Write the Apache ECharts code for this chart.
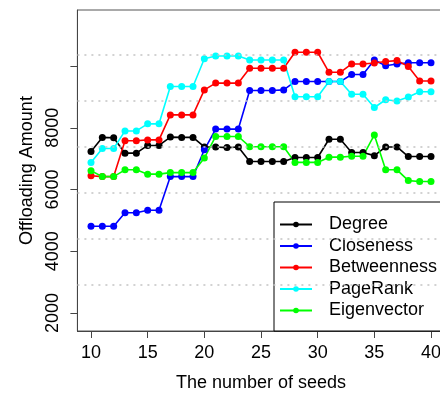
<!DOCTYPE html>
<html>
<head>
<meta charset="utf-8">
<script src="https://cdn.jsdelivr.net/npm/echarts@6/dist/echarts.min.js"></script>
<style>
  html, body { margin: 0; padding: 0; background: #fff; }
  #main { width: 440px; height: 394px; }
</style>
</head>
<body>
<div id="main"></div>
<script type="text/javascript">
// number of seeds 10..40
var seeds = [10,11,12,13,14,15,16,17,18,19,20,21,22,23,24,25,26,27,28,29,30,31,32,33,34,35,36,37,38,39,40];

var degree      = [7230,7690,7680,7180,7180,7430,7430,7700,7690,7690,7380,7380,7360,7380,6910,6910,6910,6910,7040,7040,7040,7630,7630,7200,7200,7100,7380,7380,7070,7070,7070];
var closeness   = [4810,4810,4810,5250,5250,5330,5330,6420,6420,6420,7290,7960,7960,7960,9210,9210,9210,9230,9500,9500,9500,9500,9500,9730,9730,10200,10010,10070,10110,10110,10110];
var betweenness = [6450,6420,6420,7580,7580,7610,7610,8420,8420,8420,9230,9450,9450,9450,9930,9930,9930,9930,10450,10450,10450,9800,9800,10070,10070,10100,10150,10180,9990,9520,9520];
var pagerank    = [6880,7330,7330,7900,7900,8130,8130,9340,9340,9340,10240,10330,10330,10330,10200,10200,10200,10200,9010,9010,9010,9500,9500,9090,9090,8660,8910,8870,9000,9170,9170];
var eigenvector = [6610,6420,6420,6640,6640,6500,6500,6550,6550,6550,7020,7720,7720,7720,7390,7390,7390,7390,6880,6880,6880,7050,7050,7080,7080,7770,6640,6640,6290,6260,6260];

var seriesNames  = ['Degree','Closeness','Betweenness','PageRank','Eigenvector'];
var seriesColors = ['#000000','#0000ff','#ff0000','#00ffff','#00ff00'];

var xTicks = [10,15,20,25,30,35,40];
var yTicks = [2000,4000,6000,8000,10000];
var yLabels = [2000,4000,6000,8000];
// the dotted horizontal lines
var gridValues = [2907,4398,5888,7379,8869,10360];

var myChart = echarts.init(document.getElementById('main'));
var font = 'Liberation Sans, Arial, sans-serif';

function pairs(arr) {
    var out = [];
    for (var i = 0; i < seeds.length; i++) {
        out.push([seeds[i], arr[i]]);
    }
    return out;
}

var allData = [degree, closeness, betweenness, pagerank, eigenvector];
var series = [{
    name: 'grid',
    type: 'line',
    data: [],
    silent: true,
    z: 1,
    markLine: {
        silent: true,
        symbol: 'none',
        label: { show: false },
        lineStyle: { type: [2, 5], color: '#c4c4c4', width: 1.5 },
        data: gridValues.map(function (v) { return { yAxis: v }; })
    }
}];
for (var k = 0; k < allData.length; k++) {
    series.push({
        name: seriesNames[k],
        type: 'line',
        data: pairs(allData[k]),
        symbol: 'circle',
        symbolSize: 7,
        z: 3,
        lineStyle: { color: seriesColors[k], width: 1.6 },
        itemStyle: { color: seriesColors[k] }
    });
}

var option = {
    animation: false,
    textStyle: { fontFamily: font },
    grid: {
        left: 77.4, right: -4.6, top: 10, bottom: 63,
        outerBoundsMode: 'none',
        containLabel: false,
        show: true, borderColor: '#555', borderWidth: 1
    },
    legend: {
        data: seriesNames,
        orient: 'vertical',
        left: 274,
        top: 202,
        backgroundColor: '#fff',
        borderColor: '#000',
        borderWidth: 1,
        borderRadius: 0,
        padding: [13.5, 30, 11.5, 5],
        itemWidth: 32,
        itemHeight: 7,
        itemGap: 3.5,
        textStyle: { fontSize: 18, lineHeight: 18, color: '#000', fontFamily: font, padding: [0, 0, 0, 12] }
    },
    xAxis: {
        type: 'value',
        min: 8.8,
        max: 41.2,
        name: 'The number of seeds',
        nameLocation: 'middle',
        nameGap: 43,
        nameTextStyle: { fontSize: 18, color: '#000', fontFamily: font },
        splitLine: { show: false },
        axisLine: { show: true, onZero: false, lineStyle: { color: '#444', width: 1 } },
        axisTick: { show: true, length: 7, lineStyle: { color: '#444' }, customValues: xTicks },
        axisLabel: { fontSize: 18, color: '#000', margin: 13, customValues: xTicks }
    },
    yAxis: {
        type: 'value',
        min: 1417,
        max: 11819,
        name: 'Offloading Amount',
        nameLocation: 'middle',
        nameGap: 40,
        nameRotate: 90,
        nameTextStyle: { fontSize: 18, color: '#000', fontFamily: font },
        splitLine: { show: false },
        axisLine: { show: true, onZero: false, lineStyle: { color: '#444', width: 1 } },
        axisTick: { show: true, length: 7, lineStyle: { color: '#444' }, customValues: yTicks },
        axisLabel: {
            fontSize: 18, color: '#000', rotate: 90, margin: 15, customValues: yLabels,
            formatter: function (v) { return String(v); }
        }
    },
    series: series
};
myChart.setOption(option);
</script>
</body>
</html>
